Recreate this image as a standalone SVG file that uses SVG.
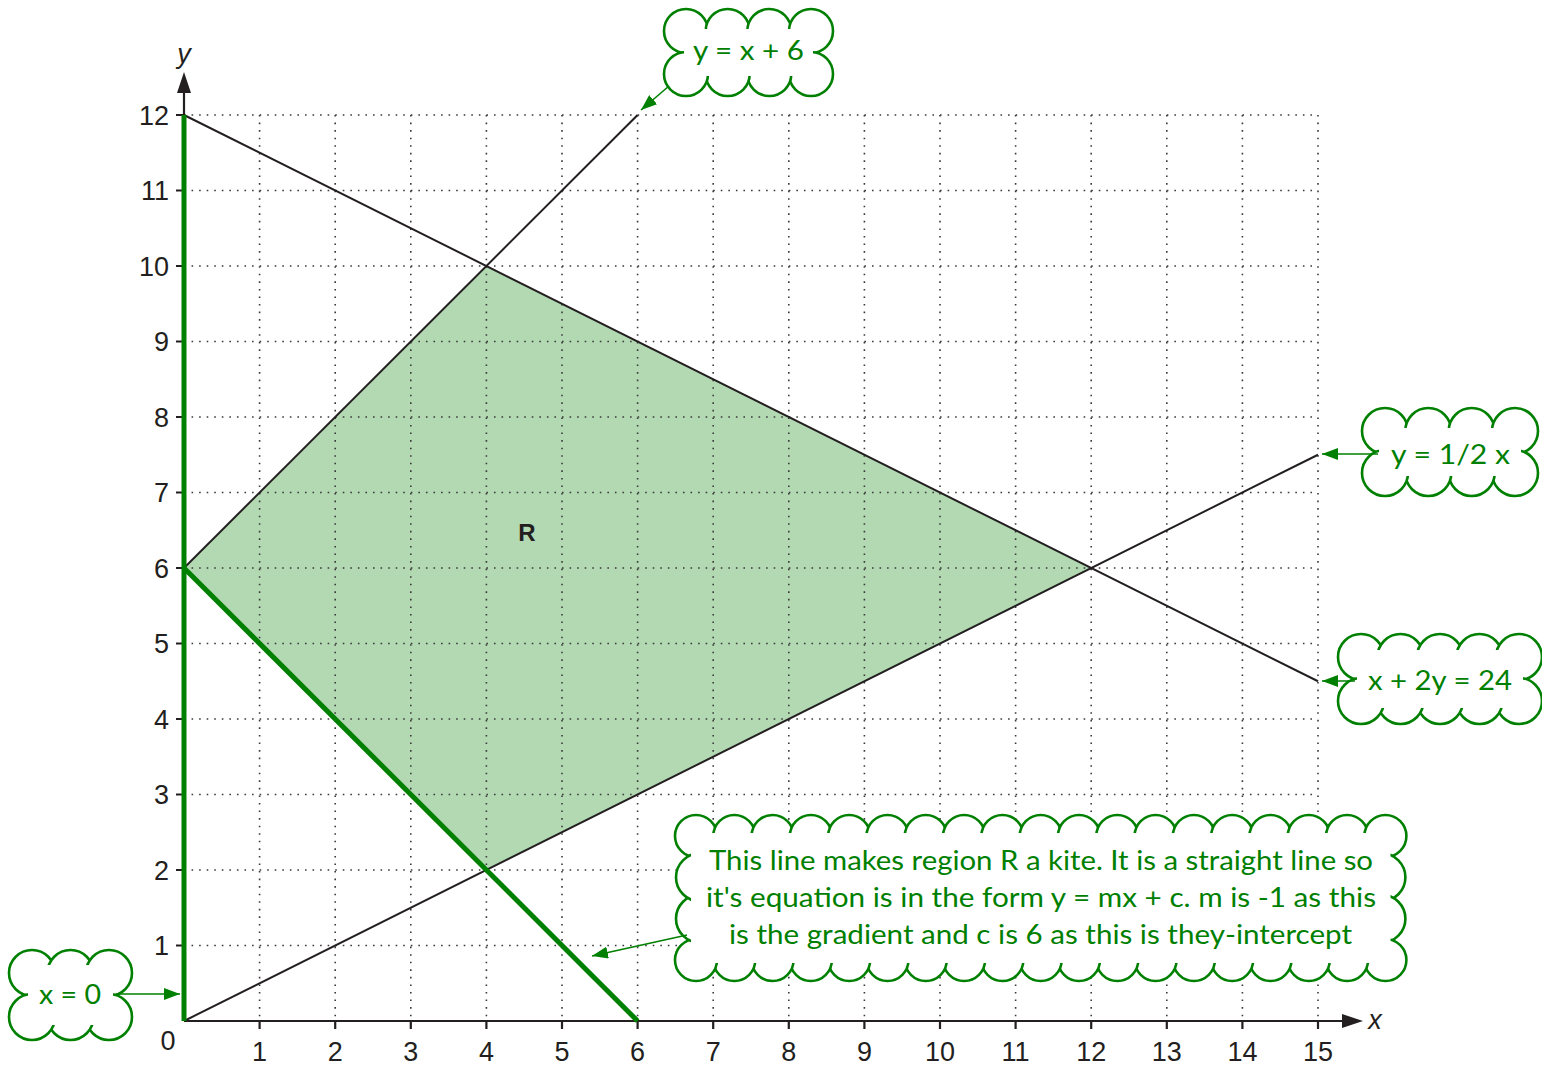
<svg xmlns="http://www.w3.org/2000/svg" width="1542" height="1065" viewBox="0 0 1542 1065">
<defs>
<style>
.grid{fill:none;stroke:#3a3a3a;stroke-width:1.6;stroke-dasharray:1.6 5.96}
.ax{fill:none;stroke:#231f20;stroke-width:2.2}
.ln{fill:none;stroke:#231f20;stroke-width:2}
.gl{fill:none;stroke:#008000;stroke-width:5}
.num{font-family:"Liberation Sans",Arial,sans-serif;font-size:27px;fill:#231f20}
.mid{text-anchor:middle}
.end{text-anchor:end}
.cl circle{fill:#fff;stroke:#008000;stroke-width:2.6}
.cl rect{fill:#fff}
.ct{font-family:Lato,"Open Sans",sans-serif;font-weight:400;font-size:26px;fill:#008000;text-anchor:middle}
.arr{fill:none;stroke:#008000;stroke-width:1.6}
</style>
<marker id="ah" markerWidth="16" markerHeight="12" refX="16" refY="6" orient="auto" markerUnits="userSpaceOnUse"><path d="M0,0L16,6L0,12z" fill="#008000"/></marker>
</defs>
<rect width="1542" height="1065" fill="#fff"/>

<g id="region">
<polygon points="184,568 486.4,266 1091.2,568 486.4,870" fill="#b3d9b3"/>
</g>

<g id="grid">
<path class="grid" d="M259.6 115V1021M335.2 115V1021M410.8 115V1021M486.4 115V1021M562 115V1021M637.6 115V1021M713.2 115V1021M788.8 115V1021M864.4 115V1021M940 115V1021M1015.6 115V1021M1091.2 115V1021M1166.8 115V1021M1242.4 115V1021M1318 115V1021"/>
<path class="grid" d="M184 945.5H1318M184 870H1318M184 794.5H1318M184 719H1318M184 643.5H1318M184 568H1318M184 492.5H1318M184 417H1318M184 341.5H1318M184 266H1318M184 190.5H1318M184 115H1318"/>
</g>

<g id="axes">
<path class="ax" d="M184 1021V90M184 1021H1345"/>
<polygon points="184,72 177,93 191,93" fill="#231f20"/>
<polygon points="1363,1021 1342,1014 1342,1028" fill="#231f20"/>
<path class="ax" d="M176 945.5H184M176 870H184M176 794.5H184M176 719H184M176 643.5H184M176 568H184M176 492.5H184M176 417H184M176 341.5H184M176 266H184M176 190.5H184M176 115H184"/>
<path class="ax" d="M259.6 1021V1029M335.2 1021V1029M410.8 1021V1029M486.4 1021V1029M562 1021V1029M637.6 1021V1029M713.2 1021V1029M788.8 1021V1029M864.4 1021V1029M940 1021V1029M1015.6 1021V1029M1091.2 1021V1029M1166.8 1021V1029M1242.4 1021V1029M1318 1021V1029"/>
<text class="num mid" x="184" y="63" font-style="italic">y</text>
<text class="num mid" x="1375" y="1029" font-style="italic">x</text>
<text class="num mid" x="168" y="1050">0</text>
<g class="num end">
<text x="169" y="955">1</text><text x="169" y="879.5">2</text><text x="169" y="804">3</text><text x="169" y="728.5">4</text><text x="169" y="653">5</text><text x="169" y="577.5">6</text><text x="169" y="502">7</text><text x="169" y="426.5">8</text><text x="169" y="351">9</text><text x="169" y="275.5">10</text><text x="169" y="200">11</text><text x="169" y="124.5">12</text>
</g>
<g class="num mid">
<text x="259.6" y="1061">1</text><text x="335.2" y="1061">2</text><text x="410.8" y="1061">3</text><text x="486.4" y="1061">4</text><text x="562" y="1061">5</text><text x="637.6" y="1061">6</text><text x="713.2" y="1061">7</text><text x="788.8" y="1061">8</text><text x="864.4" y="1061">9</text><text x="940" y="1061">10</text><text x="1015.6" y="1061">11</text><text x="1091.2" y="1061">12</text><text x="1166.8" y="1061">13</text><text x="1242.4" y="1061">14</text><text x="1318" y="1061">15</text>
</g>
</g>

<g id="plot-lines">
<path class="ln" d="M184 568L637.6 115"/>
<path class="ln" d="M184 115L1318 681.25"/>
<path class="ln" d="M184 1021L1318 454.75"/>
<path class="gl" d="M184 1021V115"/>
<path class="gl" d="M184 568L637.6 1021"/>
<text x="527" y="541" font-family="Liberation Sans,Arial,sans-serif" font-size="24" font-weight="bold" fill="#231f20" text-anchor="middle">R</text>
</g>

<g id="cloud-y-x-6" class="cl">
<circle cx="686" cy="31" r="22"/><circle cx="727.7" cy="31" r="22"/><circle cx="769.3" cy="31" r="22"/><circle cx="811" cy="31" r="22"/>
<circle cx="811" cy="74" r="22"/><circle cx="769.3" cy="74" r="22"/><circle cx="727.7" cy="74" r="22"/><circle cx="686" cy="74" r="22"/>
<rect x="684" y="29" width="129" height="47"/>
<text class="ct" x="748.5" y="60" textLength="111" lengthAdjust="spacingAndGlyphs">y = x + 6</text>
</g>

<g id="cloud-y-half-x" class="cl">
<circle cx="1385" cy="431" r="23"/><circle cx="1428.3" cy="431" r="23"/><circle cx="1471.7" cy="431" r="23"/><circle cx="1515" cy="431" r="23"/>
<circle cx="1515" cy="473" r="23"/><circle cx="1471.7" cy="473" r="23"/><circle cx="1428.3" cy="473" r="23"/><circle cx="1385" cy="473" r="23"/>
<rect x="1379" y="428" width="142" height="48"/>
<text class="ct" x="1450.5" y="464" textLength="119" lengthAdjust="spacingAndGlyphs">y = 1/2 x</text>
</g>

<g id="cloud-x-2y-24" class="cl">
<circle cx="1361" cy="657" r="23"/><circle cx="1400.5" cy="657" r="23"/><circle cx="1440" cy="657" r="23"/><circle cx="1479.5" cy="657" r="23"/><circle cx="1519" cy="657" r="23"/>
<circle cx="1519" cy="701" r="23"/><circle cx="1479.5" cy="701" r="23"/><circle cx="1440" cy="701" r="23"/><circle cx="1400.5" cy="701" r="23"/><circle cx="1361" cy="701" r="23"/>
<rect x="1357" y="650" width="166" height="58"/>
<text class="ct" x="1440" y="690" textLength="144" lengthAdjust="spacingAndGlyphs">x + 2y = 24</text>
</g>

<g id="cloud-x-0" class="cl">
<circle cx="32" cy="973" r="23"/><circle cx="70.5" cy="973" r="23"/><circle cx="109" cy="973" r="23"/>
<circle cx="109" cy="1017" r="23"/><circle cx="70.5" cy="1017" r="23"/><circle cx="32" cy="1017" r="23"/>
<rect x="28" y="965" width="85" height="60"/>
<text class="ct" x="70" y="1004" textLength="62" lengthAdjust="spacingAndGlyphs">x = 0</text>
</g>

<g id="cloud-note" class="cl">
<circle cx="696" cy="836" r="21"/><circle cx="734.3" cy="836" r="21"/><circle cx="772.6" cy="836" r="21"/><circle cx="810.9" cy="836" r="21"/><circle cx="849.2" cy="836" r="21"/><circle cx="887.5" cy="836" r="21"/><circle cx="925.8" cy="836" r="21"/><circle cx="964.1" cy="836" r="21"/><circle cx="1002.4" cy="836" r="21"/><circle cx="1040.7" cy="836" r="21"/><circle cx="1079" cy="836" r="21"/><circle cx="1117.3" cy="836" r="21"/><circle cx="1155.6" cy="836" r="21"/><circle cx="1193.9" cy="836" r="21"/><circle cx="1232.2" cy="836" r="21"/><circle cx="1270.5" cy="836" r="21"/><circle cx="1308.8" cy="836" r="21"/><circle cx="1347.1" cy="836" r="21"/><circle cx="1385.4" cy="836" r="21"/>
<circle cx="1381.4" cy="877.3" r="24"/><circle cx="1381.4" cy="918.7" r="24"/>
<circle cx="1385.4" cy="960" r="21"/><circle cx="1347.1" cy="960" r="21"/><circle cx="1308.8" cy="960" r="21"/><circle cx="1270.5" cy="960" r="21"/><circle cx="1232.2" cy="960" r="21"/><circle cx="1193.9" cy="960" r="21"/><circle cx="1155.6" cy="960" r="21"/><circle cx="1117.3" cy="960" r="21"/><circle cx="1079" cy="960" r="21"/><circle cx="1040.7" cy="960" r="21"/><circle cx="1002.4" cy="960" r="21"/><circle cx="964.1" cy="960" r="21"/><circle cx="925.8" cy="960" r="21"/><circle cx="887.5" cy="960" r="21"/><circle cx="849.2" cy="960" r="21"/><circle cx="810.9" cy="960" r="21"/><circle cx="772.6" cy="960" r="21"/><circle cx="734.3" cy="960" r="21"/><circle cx="696" cy="960" r="21"/>
<circle cx="700" cy="918.7" r="24"/><circle cx="700" cy="877.3" r="24"/>
<rect x="691" y="833" width="699.5" height="130"/>
<text class="ct" x="1041" y="870" textLength="664" lengthAdjust="spacingAndGlyphs">This line makes region R a kite. It is a straight line so</text>
<text class="ct" x="1041" y="907" textLength="670" lengthAdjust="spacingAndGlyphs">it's equation is in the form y = mx + c. m is -1 as this</text>
<text class="ct" x="1040.5" y="944" textLength="623" lengthAdjust="spacingAndGlyphs">is the gradient and c is 6 as this is they-intercept</text>
</g>

<g id="connectors">
<path class="arr" d="M669 86L641 110" marker-end="url(#ah)"/>
<path class="arr" d="M1378 454H1322" marker-end="url(#ah)"/>
<path class="arr" d="M1355 681H1322" marker-end="url(#ah)"/>
<path class="arr" d="M116 994H180" marker-end="url(#ah)"/>
<path class="arr" d="M687 935L592 956" marker-end="url(#ah)"/>
</g>
</svg>
